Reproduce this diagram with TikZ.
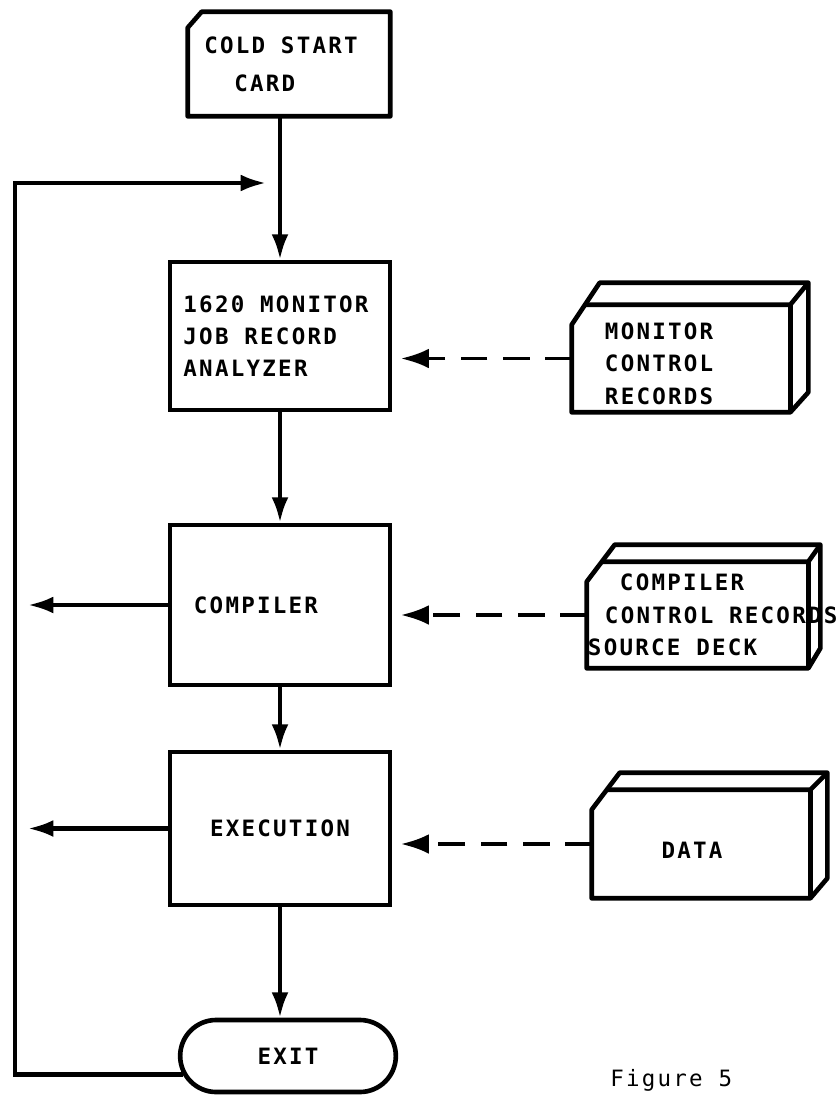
\documentclass[tikz,border=0pt]{standalone}
\usepackage{fontspec}
\setmainfont{DejaVu Sans Mono}[LetterSpace=10]
\usetikzlibrary{arrows.meta, calc, shapes.misc}

\tikzset{
    lettering/.style={font=\fontsize{16}{23}\selectfont\bfseries},
    procbox/.style={draw, line width=3.3pt, lettering, minimum width=5.5cm, align=left},
    deckface/.style={inner sep=0pt},
    flow/.style={line width=3pt, -{Latex[length=18pt, width=12pt]}},
    feed/.style={line width=2.5pt, dash pattern=on 19pt off 11pt,
        -{Latex[length=20pt, width=14pt]}, shorten >=6pt}
}

% Kartenstapel: Knoten, Tiefe x, Tiefe y
\newcommand\deckedge[3]{%
    \draw[line width=3.3pt, line join=round]
        (#1.south west) -- ($(#1.north west)+(0,20)$) -- ($(#1.north west)+(28,-#3)$)
        -- ($(#1.north east)+(#2,-#3)$) -- ($(#1.south east)+(#2,-20)$)
        -- (#1.south east) -- cycle;
    \draw[line width=3.3pt, line join=round]
        ($(#1.north west)+({28*20/(20+#3)},0)$) -- (#1.north east)
        -- ($(#1.north east)+(#2,-#3)$);
    \draw[line width=3.3pt] (#1.north east) -- (#1.south east);
}

\begin{document}
\begin{tikzpicture}[x=0.025cm, y=-0.025cm]

\useasboundingbox (0,0) rectangle (838,1097);

% Karte
\node[lettering, minimum width=5.05cm, minimum height=2.6cm, align=left] (card) at (289,64)
    {COLD START\hspace*{0.4cm}\\[4pt]\hspace*{0.75cm}CARD};
\draw[line width=3.3pt, line join=round] ($(card.north west)+(0,16)$) -- ($(card.north west)+(14,0)$)
    -- (card.north east) -- (card.south east) -- (card.south west) -- cycle;

% Ablauf
\node[procbox, minimum height=3.7cm] (monitor) at (280,336) {1620 MONITOR\hspace*{0.2cm}\\JOB RECORD\\ANALYZER};
\node[procbox, minimum height=4cm] (compiler) at (280,605) {COMPILER\hspace*{1.2cm}};
\node[procbox, minimum height=3.825cm] (execution) at (280,828.5) {EXECUTION};
\node[draw, line width=3.3pt, lettering, rounded rectangle, minimum width=5.625cm,
    minimum height=1.8cm] (exit) at (288,1056) {EXIT};

% Stapel
\node[deckface, minimum width=5.45cm, minimum height=2.675cm] (mdeck) at (681,358.5) {};
\deckedge{mdeck}{18}{22}
\node[lettering, anchor=west, align=left, inner sep=0pt] (mdecktext) at ($(mdeck.west)+(33,5)$)
    {MONITOR\\CONTROL\\RECORDS};

\node[deckface, minimum width=5.525cm, minimum height=2.65cm] (cdeck) at (697.5,615) {};
\deckedge{cdeck}{12}{17}
\node[lettering, anchor=west, align=left, inner sep=0pt] (cdecktext) at ($(cdeck.west)+(1,0)$)
    {\hspace*{0.8cm}COMPILER\\\hspace*{0.425cm}CONTROL RECORDS\\SOURCE DECK};

\node[deckface, minimum width=5.45cm, minimum height=2.7cm] (ddeck) at (701,844) {};
\deckedge{ddeck}{17}{17}
\node[lettering, inner sep=0pt] (ddecktext) at ($(ddeck.center)+(-9,6)$) {DATA};

% Punkte
\coordinate (loopA) at (15,1077);
\coordinate (loopEnd) at (266,183);
\coordinate (out) at (28,603);

% Verbindungen
\draw[flow] (card.south -| monitor.north) -- (monitor.north);
\draw[flow] (monitor.south) -- (compiler.north);
\draw[flow] (compiler.south) -- (execution.north);
\draw[flow] (execution.south) -- (execution.south |- exit.north);
\draw[flow] (compiler.west) -- (compiler.west -| out);
\draw[flow] (execution.west) -- (execution.west -| out);
\draw[flow] (exit.190) -- (exit.190 -| loopA) -- (loopA |- loopEnd) -- (loopEnd);

\draw[feed] (mdeck.west) -- (mdeck.west -| monitor.east);
\draw[feed] (cdeck.west) -- (cdeck.west -| compiler.east);
\draw[feed] (ddeck.west) -- (ddeck.west -| execution.east);

\node[font=\fontsize{16}{18}\selectfont, anchor=base west, inner sep=0pt] (figlabel) at (610,1086) {Figure 5};

\end{tikzpicture}
\end{document}
